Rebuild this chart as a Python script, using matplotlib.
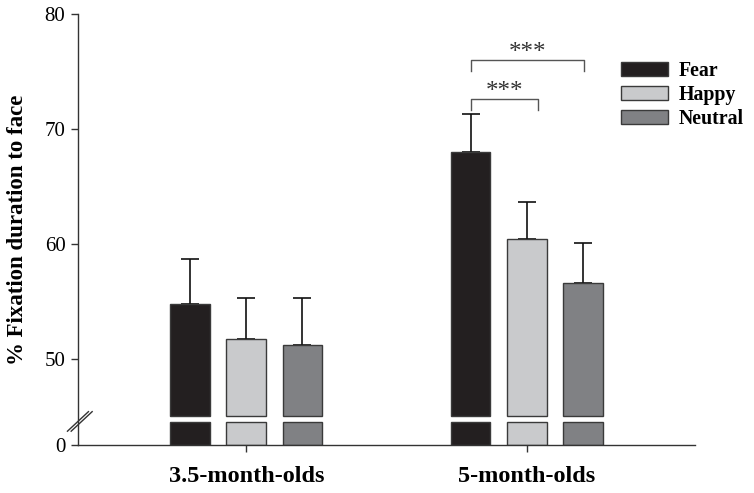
import matplotlib.pyplot as plt
import numpy as np

plt.rcParams['font.family'] = ['Liberation Serif', 'DejaVu Serif']

groups = ['3.5-month-olds', '5-month-olds']
emotions = ['Fear', 'Happy', 'Neutral']
fear = [54.8, 68.0]
happy = [51.7, 60.4]
neutral = [51.2, 56.6]
fear_err = [3.9, 3.3]
happy_err = [3.6, 3.2]
neutral_err = [4.1, 3.5]
yticks = [0, 50, 60, 70, 80]

colors = ['#231f20', '#c9cacc', '#808184']
edge = '#3a3a3a'

# broken axis: values above the break are shifted down by OFFSET
OFFSET = 42.5
LOW_TOP = 2.0
UP_BOT = 2.5


def disp(v):
    return np.asarray(v, dtype=float) - OFFSET


fig = plt.figure(figsize=(7.54, 4.93), dpi=100)
ax = fig.add_axes([0.1034, 0.0974, 0.8184, 0.8742])

ind = np.arange(len(groups))
width = 0.141
step = 0.2

handles = []
for i, (vals, errs) in enumerate(zip([fear, happy, neutral],
                                     [fear_err, happy_err, neutral_err])):
    x = ind + (i - 1) * step
    b = ax.bar(x, disp(vals) - UP_BOT, width, bottom=UP_BOT, color=colors[i],
               edgecolor=edge, linewidth=1.0, label=emotions[i], zorder=2)
    ax.bar(x, LOW_TOP, width, bottom=0, color=colors[i],
           edgecolor=edge, linewidth=1.0, zorder=2)
    ax.errorbar(x, disp(vals), yerr=[np.zeros(len(errs)), errs], fmt='none',
                ecolor='#111111', elinewidth=1.2, capsize=6.5, capthick=1.2,
                zorder=1)
    handles.append(b)

# significance brackets (5-month-olds)
def bracket(x0, x1, y, h, txt_y):
    ax.plot([x0, x0, x1, x1], disp([y - h, y, y, y - h]), color='#555555',
            lw=1.0, clip_on=False)
    ax.text((x0 + x1) / 2, disp(txt_y), '***', ha='center', va='center',
            fontsize=18, color='#333333')

bracket(1 - step, 1.039, 72.6, 0.95, 73.2)
bracket(1 - step, 1.205, 76.0, 0.95, 76.6)

ax.set_xlim(-0.6, 1.6)
ax.set_ylim(0, 37.5)
ax.set_xticks(ind)
ax.set_xticklabels(groups, fontsize=17.5, fontweight='bold')
ax.set_yticks([0 if t == 0 else t - OFFSET for t in yticks])
ax.set_yticklabels([str(t) for t in yticks], fontsize=15)
ax.set_ylabel('% Fixation duration to face', fontsize=16.5, fontweight='bold',
              labelpad=12)

for s in ['top', 'right']:
    ax.spines[s].set_visible(False)
for s in ['left', 'bottom']:
    ax.spines[s].set_color('#333333')
    ax.spines[s].set_linewidth(1.0)
ax.tick_params(axis='both', direction='out', length=5, width=1.0,
               color='#333333', pad=4)
ax.tick_params(axis='x', pad=10)

# break marks on the y axis
for dx in (0.0, 0.006):
    ax.plot([-0.017 + dx, 0.017 + dx], [1.2 / 37.5, 2.9 / 37.5],
            transform=ax.transAxes, color='#333333', lw=1.0, clip_on=False)

ax.legend(handles=handles, loc='upper left',
          bbox_to_anchor=(621 / 754, 1 - 61 / 493),
          bbox_transform=fig.transFigure, frameon=False,
          prop={'size': 14.3, 'weight': 'bold'}, handlelength=2.35,
          handleheight=0.65, labelspacing=0.2, handletextpad=0.55,
          borderpad=0, borderaxespad=0)

fig.savefig('out.png', dpi=100)
